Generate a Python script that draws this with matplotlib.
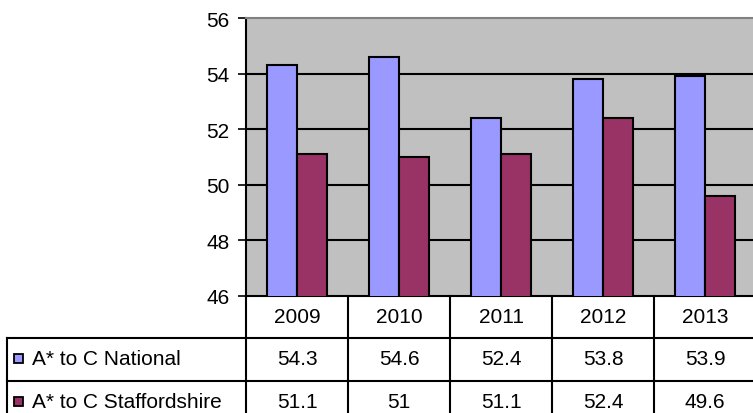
import numpy as np
import matplotlib
matplotlib.use("Agg")
import matplotlib.pyplot as plt
from matplotlib.lines import Line2D
from matplotlib.patches import Rectangle
import matplotlib.transforms as mtransforms

years = ["2009", "2010", "2011", "2012", "2013"]
national = [54.3, 54.6, 52.4, 53.8, 53.9]
staffs = [51.1, 51, 51.1, 52.4, 49.6]
series_names = ["A* to C National", "A* to C Staffordshire"]
clrs = ["#9999FF", "#993366"]

plt.rcParams['font.family'] = ['Liberation Sans', 'DejaVu Sans']
fs = 15

W, H = 753, 414
fig = plt.figure(figsize=(W/100, H/100), dpi=100)

def fx(px):  # pixel -> figure fraction
    return px / W

def fy(py):
    return 1 - py / H

ax_left, ax_right, ax_top, ax_bot = 246, 756, 19, 297
ax = fig.add_axes([fx(ax_left), fy(ax_bot), fx(ax_right - ax_left), (ax_bot - ax_top) / H])
ax.set_facecolor("#C0C0C0")

x = np.arange(len(years))
bw = 0.29
ax.bar(x - 0.145, national, bw, bottom=0, color=clrs[0], edgecolor='black', linewidth=1.5, zorder=3)
ax.bar(x + 0.145, staffs, bw, bottom=0, color=clrs[1], edgecolor='black', linewidth=1.5, zorder=3)

ax.set_xlim(-0.5, len(years) - 0.5)
ax.set_ylim(46, 56)
ax.set_yticks(np.arange(46, 57, 2))
ax.set_xticks([])
ax.tick_params(axis='y', length=6, width=1.2, pad=6, labelsize=fs)
for yv in [48, 50, 52, 54]:
    ax.axhline(yv, color='black', lw=1.5, zorder=1)

ax.spines['left'].set_linewidth(1.5)
ax.spines['bottom'].set_linewidth(1.5)
ax.spines['top'].set_color('#808080')
ax.spines['top'].set_linewidth(1.5)
ax.spines['right'].set_visible(False)

# data table below the plot
row_lines = [297, 339, 382, 425]
tbl_left = 7
blend = mtransforms.blended_transform_factory(ax.transData, fig.transFigure)

def hline(y, x0, x1):
    fig.add_artist(Line2D([fx(x0), fx(x1)], [fy(y), fy(y)], color='black', lw=1.5))

def vline(xp, y0, y1):
    fig.add_artist(Line2D([fx(xp), fx(xp)], [fy(y0), fy(y1)], color='black', lw=1.5))

hline(row_lines[1], tbl_left, W + 5)
hline(row_lines[2], tbl_left, W + 5)
vline(tbl_left, row_lines[1], row_lines[3])
for k in range(len(years) + 1):
    xp = ax_left + k * (ax_right - ax_left) / len(years)
    vline(xp, row_lines[0], row_lines[3])

for i, yr in enumerate(years):
    fig.text(i, fy((row_lines[0] + row_lines[1]) / 2), yr, transform=blend,
             ha='center', va='center', fontsize=fs)
for r, vals in enumerate([national, staffs]):
    yc = fy((row_lines[r + 1] + row_lines[r + 2]) / 2 - 1)
    for i, v in enumerate(vals):
        fig.text(i, yc, f"{v:g}", transform=blend, ha='center', va='center', fontsize=fs)
    fig.add_artist(Rectangle((fx(14), yc - 4.5 / H), 9 / W, 9 / H, facecolor=clrs[r],
                             edgecolor='black', lw=1.3))
    fig.text(fx(32), yc, series_names[r], ha='left', va='center', fontsize=fs)

fig.savefig("out.png", dpi=100)
